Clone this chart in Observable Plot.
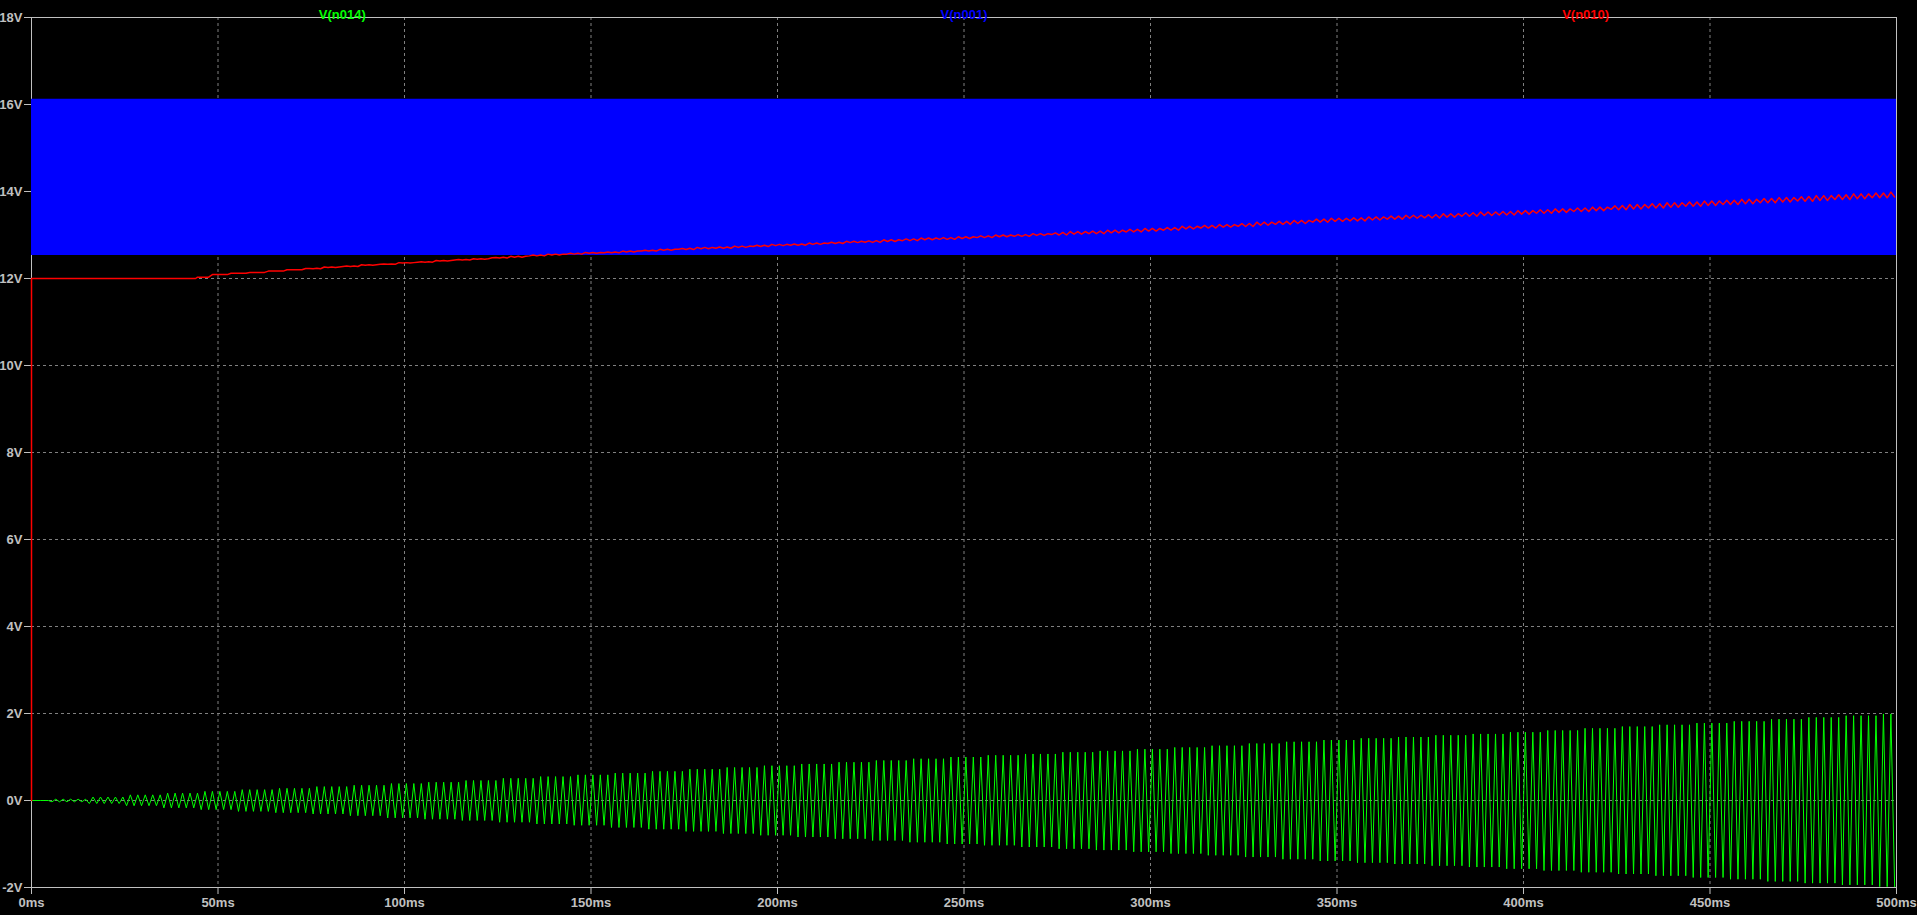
<!DOCTYPE html>
<html><head><meta charset="utf-8">
<script src="https://cdn.jsdelivr.net/npm/d3@7"></script>
<script src="https://cdn.jsdelivr.net/npm/@observablehq/plot@0.6"></script>
<style>html,body{margin:0;padding:0;background:#000;overflow:hidden}</style>
</head><body><div id="chart"></div>
<script>
// ---- data ----
const traceNames  = ["V(n014)", "V(n001)", "V(n010)"];
const traceColors = ["#00ff00", "#0000ff", "#ff0000"];
const xTicks = [0, 50, 100, 150, 200, 250, 300, 350, 400, 450, 500];   // ms
const yTicks = [-2, 0, 2, 4, 6, 8, 10, 12, 14, 16, 18];                // V

// V(n014): 500 Hz oscillation (period counted: 2 ms), envelope read every 10 ms
const greenPeriod = 2;
const greenKnotT = [0,10,20,30,40,50,60,70,80,90,100,110,120,130,140,150,160,170,180,190,200,210,220,230,240,250,260,270,280,290,300,310,320,330,340,350,360,370,380,390,400,410,420,430,440,450,460,470,480,490,500];
const greenHi = [0,0.03,0.08,0.13,0.17,0.21,0.25,0.28,0.32,0.35,0.39,0.42,0.46,0.51,0.55,0.59,0.63,0.67,0.72,0.76,0.80,0.84,0.88,0.92,0.96,1.00,1.04,1.07,1.11,1.14,1.18,1.22,1.26,1.31,1.35,1.39,1.43,1.46,1.50,1.53,1.57,1.61,1.66,1.70,1.74,1.78,1.82,1.87,1.91,1.95,1.99];
const greenLo = [0,-0.03,-0.07,-0.12,-0.17,-0.21,-0.25,-0.28,-0.31,-0.35,-0.40,-0.43,-0.46,-0.50,-0.54,-0.57,-0.62,-0.66,-0.71,-0.76,-0.80,-0.84,-0.88,-0.92,-0.96,-1.00,-1.03,-1.07,-1.11,-1.14,-1.18,-1.22,-1.26,-1.30,-1.35,-1.39,-1.43,-1.46,-1.50,-1.53,-1.57,-1.61,-1.65,-1.69,-1.73,-1.77,-1.81,-1.86,-1.90,-1.94,-1.98];

// V(n001): fast switching node, drawn as its band (low / high levels)
const blueT  = [0, 500];
const blueLo = [12.53, 12.53];
const blueHi = [16.12, 16.12];

// V(n010): 0 V at t=0, 12 V until ~44 ms, then rising (read every 5 ms); ripple half-amplitude every 50 ms
const redStartT = [0, 0, 44];
const redStartV = [0, 12, 12];
const redKnotT = [40,45,50,55,60,65,70,75,80,85,90,95,100,105,110,115,120,125,130,135,140,145,150,155,160,165,170,175,180,185,190,195,200,205,210,215,220,225,230,235,240,245,250,255,260,265,270,275,280,285,290,295,300,305,310,315,320,325,330,335,340,345,350,355,360,365,370,375,380,385,390,395,400,405,410,415,420,425,430,435,440,445,450,455,460,465,470,475,480,485,490,495,500];
const redV = [12.00,12.03,12.09,12.12,12.14,12.17,12.20,12.23,12.26,12.28,12.31,12.33,12.36,12.38,12.41,12.43,12.45,12.48,12.50,12.53,12.55,12.57,12.59,12.60,12.62,12.64,12.66,12.68,12.70,12.71,12.73,12.75,12.77,12.78,12.80,12.82,12.84,12.85,12.87,12.89,12.91,12.92,12.94,12.96,12.98,12.99,13.01,13.03,13.05,13.06,13.08,13.10,13.12,13.14,13.17,13.19,13.21,13.23,13.26,13.28,13.30,13.33,13.35,13.36,13.38,13.40,13.42,13.43,13.45,13.47,13.49,13.50,13.52,13.54,13.56,13.58,13.60,13.63,13.65,13.67,13.69,13.71,13.73,13.75,13.77,13.79,13.81,13.83,13.85,13.87,13.89,13.91,13.93];
const redRipT = [0,50,100,150,200,250,300,350,400,450,500];
const redRip  = [0,0,0.005,0.01,0.015,0.02,0.03,0.035,0.04,0.05,0.055];

// ---- build tables for the marks ----
const knotIndex = (arr, t) => d3.leastIndex(arr, a => Math.abs(a - t));
const green = [{t: 0, v: 0}];
for (let k = 0; (k + 0.5) * greenPeriod / 2 < 500; k++) {
  const t = (k + 0.5) * greenPeriod / 2;
  const i = knotIndex(greenKnotT, t);
  green.push({t, v: k % 2 === 0 ? greenHi[i] : greenLo[i]});
}
const blue = blueT.map((t, i) => ({t, lo: blueLo[i], hi: blueHi[i]}));
const red = redStartT.map((t, i) => ({t, v: redStartV[i]}));
for (let k = 0; ; k++) {
  const t = 44.5 + k * greenPeriod / 2;
  if (t > 500) break;
  const base = redV[knotIndex(redKnotT, t)];
  const r = redRip[knotIndex(redRipT, t)];
  red.push({t, v: base + (k % 2 === 0 ? r : -r)});
}
const names = traceNames.map((name, i) => ({name, color: traceColors[i], x: 500 * (2 * i + 1) / 6}));

const chart = Plot.plot({
  width: 1917, height: 915,
  marginLeft: 31, marginRight: 21, marginTop: 17, marginBottom: 28,
  x: {domain: [0, 500]},
  y: {domain: [-2, 18]},
  style: {background: "#000", color: "#c0c0c0", fontFamily: "'Liberation Sans', Arial, sans-serif", fontSize: "13px", fontWeight: "bold"},
  marks: [
    Plot.ruleX(xTicks.slice(1, -1), {stroke: "#808080", strokeDasharray: "3,3"}),
    Plot.ruleY(yTicks.slice(1, -1), {stroke: "#808080", strokeDasharray: "3,3"}),
    Plot.frame({stroke: "#c0c0c0"}),
    Plot.axisX(xTicks, {tickSize: 7, tickPadding: 3, tickFormat: d => d + "ms", stroke: "#c0c0c0", fill: "#c0c0c0"}),
    Plot.axisY(yTicks, {tickSize: 7, tickPadding: 2, tickFormat: d => d + "V", stroke: "#c0c0c0", fill: "#c0c0c0"}),
    Plot.line(green, {x: "t", y: "v", stroke: traceColors[0], strokeWidth: 1}),
    Plot.areaY(blue, {x: "t", y1: "lo", y2: "hi", fill: traceColors[1], fillOpacity: 1}),
    Plot.line(red, {x: "t", y: "v", stroke: traceColors[2], strokeWidth: 1.5}),
    ...names.map(n => Plot.text([n], {x: "x", text: "name", frameAnchor: "top", dy: -8, fill: n.color, fontSize: 13, fontWeight: "bold"}))
  ]
});
document.getElementById("chart").appendChild(chart);
</script>
</body></html>
